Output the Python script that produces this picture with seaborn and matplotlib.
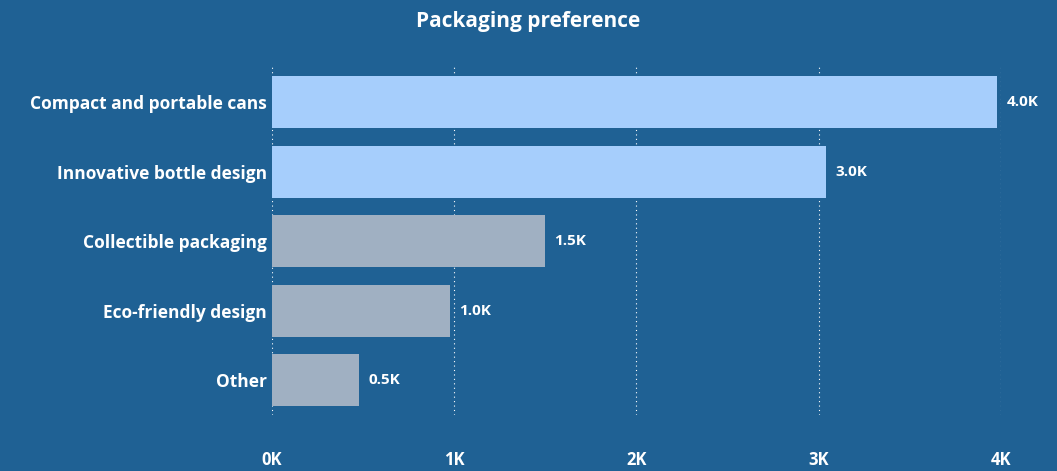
import matplotlib
matplotlib.use("Agg")
import matplotlib.pyplot as plt
import seaborn as sns
import pandas as pd

# ─── Data ────────────────────────────────────────────────────────────────────
categories = ["Compact and portable cans", "Innovative bottle design",
              "Collectible packaging", "Eco-friendly design", "Other"]
values = [3980, 3040, 1500, 980, 480]
labels = ["4.0K", "3.0K", "1.5K", "1.0K", "0.5K"]
colors = ["#a6cefc", "#a6cefc", "#a0b0c2", "#a0b0c2", "#a0b0c2"]
xticks = [0, 1000, 2000, 3000, 4000]
xtick_labels = ["0K", "1K", "2K", "3K", "4K"]

BG = "#1f6194"

sns.set_theme(style="white")
plt.rcParams["font.family"] = ["Open Sans", "DejaVu Sans"]

df = pd.DataFrame({"category": categories, "value": values})

fig = plt.figure(figsize=(10.57, 4.71), dpi=100, facecolor=BG)
ax = fig.add_axes([0.257, 0.119, 0.69, 0.738], facecolor=BG)

sns.barplot(data=df, x="value", y="category", hue="category",
            palette=colors, legend=False, width=0.75, saturation=1,
            linewidth=0, ax=ax)

for i, (v, lab) in enumerate(zip(values, labels)):
    ax.text(v + 50, i, lab, va="center", ha="left", color="white",
            fontsize=11, fontweight="bold")

ax.set_xlim(0, 4000)
ax.set_xticks(xticks)
ax.set_xticklabels(xtick_labels, color="white", fontsize=12, fontweight="bold")
ax.tick_params(axis="y", labelcolor="white", labelsize=12.5, length=0)
ax.tick_params(axis="x", length=0, pad=26)
for t in ax.get_yticklabels():
    t.set_fontweight("bold")
ax.grid(axis="x", color="white", linestyle=(0, (1, 3)), linewidth=0.8)
ax.set_axisbelow(True)
ax.set_xlabel("")
ax.set_ylabel("")
for s in ax.spines.values():
    s.set_visible(False)

fig.text(0.5, 0.955, "Packaging preference", ha="center", va="center",
         color="white", fontsize=15, fontweight="bold")

fig.savefig("out.png", dpi=100, facecolor=BG)
